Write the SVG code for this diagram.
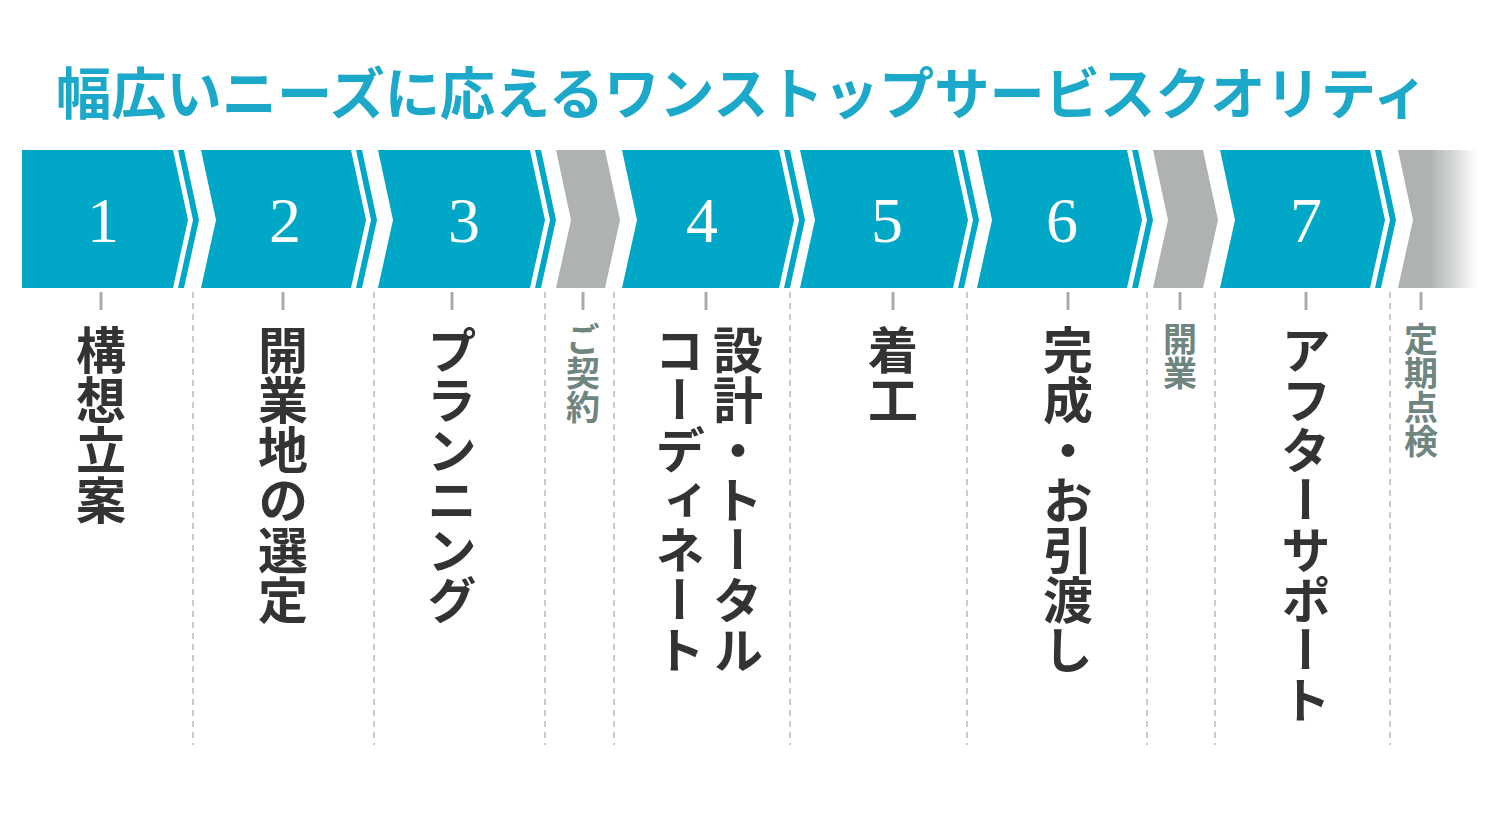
<svg xmlns="http://www.w3.org/2000/svg" width="1500" height="825" viewBox="0 0 1500 825">
<style>
.b{fill:#00a7c6}.g{fill:#aeb3b1}
.num{font-family:"Liberation Serif",serif;font-size:64px;fill:#fff;text-anchor:middle}
.lbl{font-family:"Noto Sans CJK JP",sans-serif;font-weight:bold;font-size:50px;fill:#333;writing-mode:vertical-rl}
.sl{font-family:"Noto Sans CJK JP",sans-serif;font-weight:bold;font-size:34px;fill:#6f8580;writing-mode:vertical-rl}
.dash{stroke:#bbb;stroke-width:1.5;stroke-dasharray:6 5}
.tick{stroke:#aaa;stroke-width:3}
</style>
<defs>
<linearGradient id="fade" x1="1398" y1="0" x2="1478" y2="0" gradientUnits="userSpaceOnUse">
<stop offset="0" stop-color="#aeb3b1"/><stop offset="0.4" stop-color="#aeb3b1"/><stop offset="1" stop-color="#fff"/>
</linearGradient>
</defs>
<rect width="1500" height="825" fill="#fff"/>
<text x="742" y="114" text-anchor="middle" textLength="1372" lengthAdjust="spacingAndGlyphs" font-family="Noto Sans CJK JP, sans-serif" font-weight="bold" font-size="56" fill="#1ba8c9">幅広いニーズに応えるワンストップサービスクオリティ</text>

<g id="connectors">
<line class="dash" x1="193" y1="292" x2="193" y2="745"/>
<line class="dash" x1="374" y1="292" x2="374" y2="745"/>
<line class="dash" x1="545" y1="292" x2="545" y2="745"/>
<line class="dash" x1="614" y1="292" x2="614" y2="745"/>
<line class="dash" x1="790" y1="292" x2="790" y2="745"/>
<line class="dash" x1="967" y1="292" x2="967" y2="745"/>
<line class="dash" x1="1147" y1="292" x2="1147" y2="745"/>
<line class="dash" x1="1215" y1="292" x2="1215" y2="745"/>
<line class="dash" x1="1390" y1="292" x2="1390" y2="745"/>
<g class="tick">
<line x1="101" y1="292" x2="101" y2="310"/><line x1="283" y1="292" x2="283" y2="310"/>
<line x1="452" y1="292" x2="452" y2="310"/><line x1="583" y1="292" x2="583" y2="310"/>
<line x1="706" y1="292" x2="706" y2="310"/><line x1="893" y1="292" x2="893" y2="310"/>
<line x1="1068" y1="292" x2="1068" y2="310"/><line x1="1180" y1="292" x2="1180" y2="310"/>
<line x1="1306" y1="292" x2="1306" y2="310"/><line x1="1421" y1="292" x2="1421" y2="310"/>
</g>
</g>

<g id="step1"><polygon class="b" points="22,150 173,150 188,220 173,288 22,288"/>
<polygon class="b" points="178,150 184,150 199,220 184,288 178,288 193,220"/>
<text class="num" x="103" y="242">1</text><text class="lbl" x="101" y="325">構想立案</text></g>
<g id="step2"><polygon class="b" points="201,150 351,150 366,220 351,288 201,288 216,220"/>
<polygon class="b" points="356,150 362,150 377,220 362,288 356,288 371,220"/>
<text class="num" x="285" y="242">2</text><text class="lbl" x="283" y="325">開業地の選定</text></g>
<g id="step3"><polygon class="b" points="378,150 530,150 545,220 530,288 378,288 393,220"/>
<polygon class="b" points="535,150 541,150 556,220 541,288 535,288 550,220"/>
<text class="num" x="464" y="242">3</text><text class="lbl" x="452" y="325">プランニング</text></g>
<g id="contract"><polygon class="g" points="556,150 605,150 620,220 605,288 556,288 571,220"/>
<text class="sl" x="583" y="322">ご契約</text></g>
<g id="step4"><polygon class="b" points="622,150 779,150 794,220 779,288 622,288 637,220"/>
<polygon class="b" points="784,150 790,150 805,220 790,288 784,288 799,220"/>
<text class="num" x="702" y="242">4</text>
<text class="lbl" x="738" y="325">設計・トータル</text><text class="lbl" x="680" y="325">コーディネート</text></g>
<g id="step5"><polygon class="b" points="800,150 953,150 968,220 953,288 800,288 815,220"/>
<polygon class="b" points="958,150 964,150 979,220 964,288 958,288 973,220"/>
<text class="num" x="887" y="242">5</text><text class="lbl" x="893" y="325">着工</text></g>
<g id="step6"><polygon class="b" points="977,150 1127,150 1142,220 1127,288 977,288 992,220"/>
<polygon class="b" points="1132,150 1138,150 1153,220 1138,288 1132,288 1147,220"/>
<text class="num" x="1062" y="242">6</text><text class="lbl" x="1068" y="325">完成・お引渡し</text></g>
<g id="opening"><polygon class="g" points="1153,150 1203,150 1218,220 1203,288 1153,288 1168,220"/>
<text class="sl" x="1180" y="322">開業</text></g>
<g id="step7"><polygon class="b" points="1220,150 1370,150 1385,220 1370,288 1220,288 1235,220"/>
<polygon class="b" points="1375,150 1381,150 1396,220 1381,288 1375,288 1390,220"/>
<text class="num" x="1306" y="242">7</text><text class="lbl" x="1306" y="325">アフターサポート</text></g>
<g id="inspection"><polygon fill="url(#fade)" points="1398,150 1478,150 1478,288 1398,288 1413,220"/>
<text class="sl" x="1421" y="322">定期点検</text></g>
</svg>
